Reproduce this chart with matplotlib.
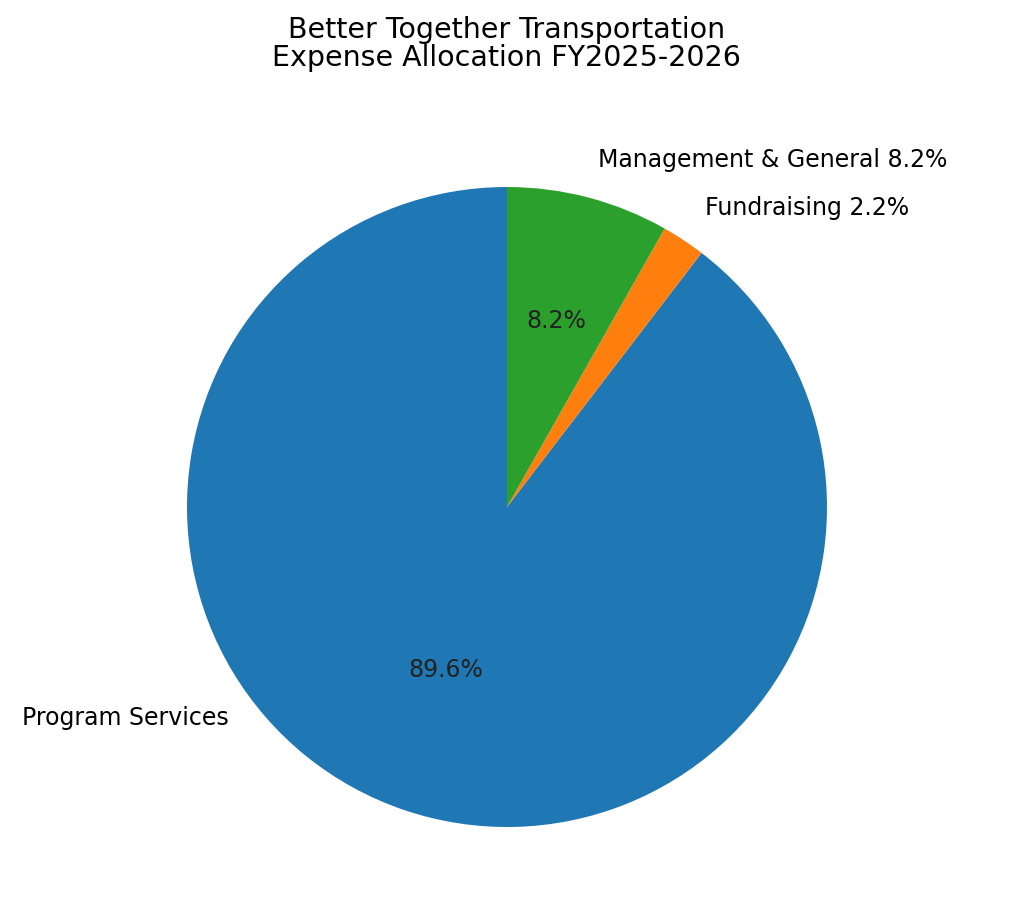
import matplotlib.pyplot as plt

# expense allocation, ordered counterclockwise from the top
categories = ['Program Services', 'Fundraising', 'Management & General']
shares = [89.6, 2.2, 8.2]
colors = ['#1f77b4', '#ff7f0e', '#2ca02c']

fig = plt.figure(figsize=(10.24, 9.24), dpi=100)
ax = fig.add_axes([107 / 1024, 17 / 924, 800 / 1024, 800 / 924])

labels = ['Program Services'] + [f'{c} {s}%' for c, s in zip(categories[1:], shares[1:])]


def show_pct(pct):
    # hide the percentage on the tiny slice
    return f'{pct:.1f}%' if pct > 5 else ''


wedges, texts, autotexts = ax.pie(
    shares,
    labels=labels,
    colors=colors,
    startangle=90,
    autopct=show_pct,
    labeldistance=1.12,
    textprops={'fontsize': 17},
)

# program label was moved beside the pie
texts[0].set_position((-0.87, -0.66))
texts[0].set_horizontalalignment('right')
autotexts[0].set_position((-0.19, -0.51))

for t in autotexts:
    t.set_color('#222222')

fig.text(0.495, 0.952, 'Better Together Transportation\nExpense Allocation FY2025-2026',
         ha='center', va='center', fontsize=20.5, linespacing=1.0)

fig.savefig('out.png', dpi=100)
